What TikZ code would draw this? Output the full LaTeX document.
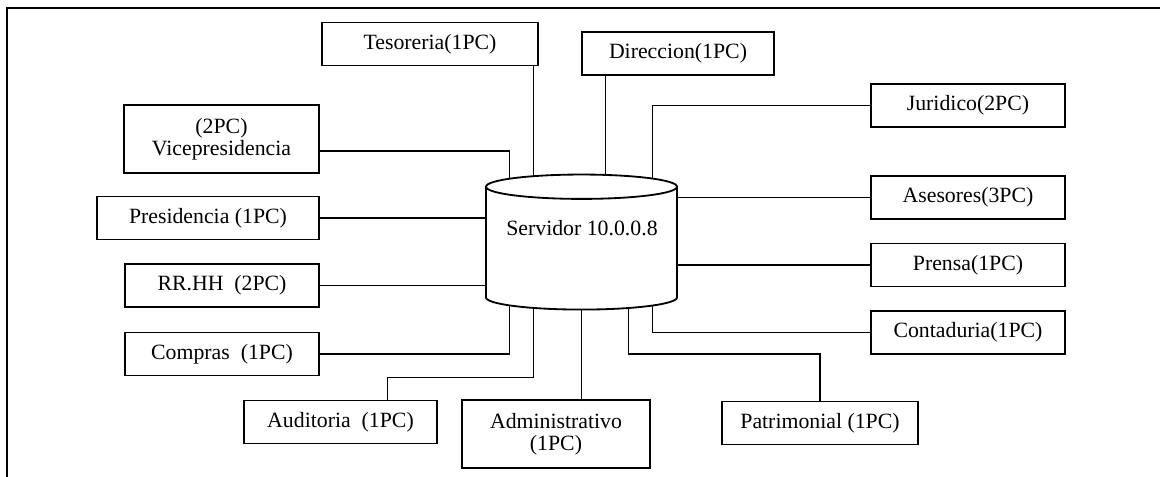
\documentclass[tikz,border=0pt]{standalone}
\usepackage{fontspec}
\setmainfont{Liberation Serif}
\usetikzlibrary{shapes.geometric,calc,backgrounds}

\begin{document}
\begin{tikzpicture}[x=0.025cm, y=0.025cm]
    \tikzset{
        pcbox/.style={draw, line width=1.3pt, inner sep=0pt, align=center,
            minimum height=1.075cm, font=\fontsize{15.5}{15.5}\selectfont},
        dbstyle/.style={draw, fill=white, line width=1.3pt, cylinder,
            shape border rotate=90, aspect=2.6,
            minimum width=4.775cm, minimum height=3.375cm},
        linkstyle/.style={line width=1.3pt},
        borderstyle/.style={line width=1.5pt}
    }
    \useasboundingbox (0,0) rectangle (1160,477);
    \draw[borderstyle] (7,0) -- (7,469) -- (1160,469);

    % servidor
    \node[dbstyle] (srv) at (581.5,226.5) {};
    \node[font=\fontsize{15.5}{15.5}\selectfont] (srvtxt) at (582,249) {Servidor 10.0.0.8};
    \coordinate (ta) at ($(srv.center)+(-72,0)$);
    \coordinate (tb) at ($(srv.center)+(-48,0)$);
    \coordinate (tc) at ($(srv.center)+(24,0)$);
    \coordinate (td) at ($(srv.center)+(47,0)$);
    \coordinate (te) at ($(srv.center)+(71,0)$);

    % oficinas
    \node[pcbox, minimum width=5.4cm] (tes) at (430,433) {Tesoreria(1PC)};
    \node[pcbox, minimum width=4.8cm] (dir) at (678,423.5) {Direccion(1PC)};
    \node[pcbox, minimum width=4.875cm, minimum height=1.7cm] (vice) at (221.5,338) {(2PC)\\Vicepresidencia};
    \node[pcbox, minimum width=5.55cm] (pres) at (208,259) {Presidencia (1PC)};
    \node[pcbox, minimum width=4.85cm] (rrhh) at (222,191.5) {RR.HH\ \ (2PC)};
    \node[pcbox, minimum width=4.85cm] (comp) at (222,123) {Compras\ \ (1PC)};
    \node[pcbox, minimum width=4.825cm] (audi) at (340.5,55) {Auditoria\ \ (1PC)};
    \node[pcbox, minimum width=4.7cm, minimum height=1.7cm] (admi) at (556,43) {Administrativo\\(1PC)};
    \node[pcbox, minimum width=4.9cm] (patr) at (820,54) {Patrimonial (1PC)};
    \node[pcbox, minimum width=4.85cm] (juri) at (968,371.5) {Juridico(2PC)};
    \node[pcbox, minimum width=4.85cm] (ases) at (968,279.5) {Asesores(3PC)};
    \node[pcbox, minimum width=4.85cm] (pren) at (968,212) {Prensa(1PC)};
    \node[pcbox, minimum width=4.85cm] (cont) at (968,144.5) {Contaduria(1PC)};

    % cableado
    \begin{scope}[on background layer]
        \draw[linkstyle] ($(vice.east)+(0,-12)$) -| (ta);
        \draw[linkstyle] (tes.south -| tb) -- (tb);
        \draw[linkstyle] (dir.south -| tc) -- (tc);
        \draw[linkstyle] (juri.west) -| (te);
        \draw[linkstyle] (pres.east) -- (pres.east -| srv.center);
        \draw[linkstyle] (rrhh.east) -- (rrhh.east -| srv.center);
        \draw[linkstyle] (ases.west) -- (ases.west -| srv.center);
        \draw[linkstyle] (pren.west) -- (pren.west -| srv.center);
        \draw[linkstyle] (comp.east) -| (ta);
        \draw[linkstyle] (cont.west) -| (te);
        \draw[linkstyle] ($(audi.north)+(47,0)$) -- ++(0,22) -| (tb);
        \draw[linkstyle] (admi.north -| srv.center) -- (srv.center);
        \draw[linkstyle] (patr.north) |- (comp.east -| td) -- (td);
    \end{scope}

\end{tikzpicture}
\end{document}
